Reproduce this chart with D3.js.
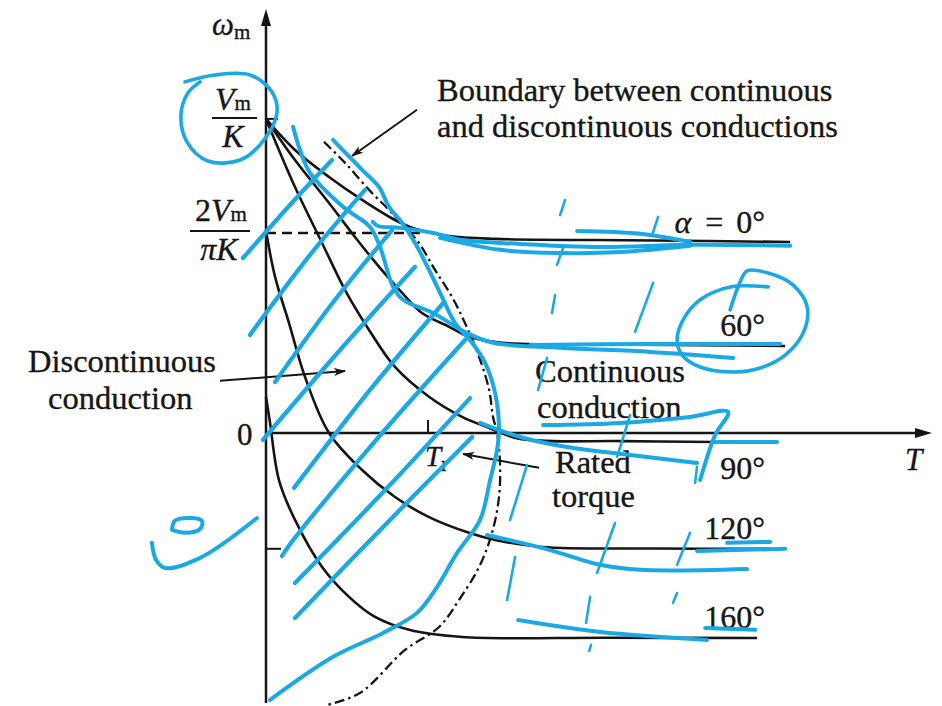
<!DOCTYPE html>
<html>
<head>
<meta charset="utf-8">
<script src="https://cdn.jsdelivr.net/npm/d3@7"></script>
<style>
  html, body { margin: 0; padding: 0; background: #ffffff; }
  svg { display: block; }
  text { font-family: "Liberation Serif", "Times New Roman", serif; fill: #161616; stroke: #161616; stroke-width: 0.35px; }
</style>
</head>
<body>
<svg id="chart" width="942" height="706"></svg>
<script>
// Speed–torque characteristics of a converter-fed dc motor.
// ω_m is in units of Vm/K, torque T in units of rated torque Tr.

const firingAngles = ["α = 0°", "60°", "90°", "120°", "160°"];

const curveA0 = [[0,1],[0.179,0.901],[0.389,0.815],[0.593,0.742],[0.796,0.678],[0.92,0.650],[1.13,0.627],[1.414,0.618],[2.4,0.613],[3.235,0.608]];
const curveA60 = [[0,1],[0.179,0.869],[0.389,0.732],[0.549,0.624],[0.698,0.529],[0.84,0.446],[0.963,0.382],[1.13,0.338],[1.253,0.306],[1.457,0.287],[2.3,0.281],[3.204,0.277]];
const curveA90 = [[0,1],[0.179,0.783],[0.346,0.605],[0.488,0.455],[0.636,0.328],[0.796,0.210],[1.006,0.115],[1.21,0.051],[1.377,0.016],[1.568,-0.019],[2.2,-0.026],[2.772,-0.029]];
const curveA120 = [[0,0.643],[0.056,0.497],[0.142,0.350],[0.241,0.178],[0.389,0],[0.593,-0.118],[0.796,-0.204],[1.006,-0.268],[1.253,-0.318],[1.414,-0.341],[1.704,-0.363],[2.4,-0.368],[3.111,-0.369]];
const curveA160 = [[0,0.115],[0.025,0.032],[0.08,-0.15],[0.179,-0.277],[0.346,-0.427],[0.512,-0.522],[0.673,-0.586],[0.883,-0.627],[1.21,-0.65],[2.1,-0.652],[3.031,-0.653]];
const speedCurves = [curveA0, curveA60, curveA90, curveA120, curveA160];

// boundary between continuous and discontinuous conduction
const boundary = [[0.358,0.927],[0.488,0.860],[0.636,0.774],[0.759,0.710],[0.858,0.656],[0.944,0.605],[1.043,0.519],[1.148,0.433],[1.228,0.350],[1.315,0.242],[1.377,0.137],[1.401,0.051],[1.426,0],[1.444,-0.096],[1.438,-0.204],[1.395,-0.318],[1.315,-0.427],[1.191,-0.532],[1.068,-0.618],[0.858,-0.691],[0.580,-0.828],[0.377,-0.866]];

const noLoadSpeed = 1;            // Vm/K
const averageSpeed = 2 / Math.PI; // 2Vm/(πK)
const ratedTorque = 1;            // Tr

// hand-drawn study marks (blue pen)
const ringVm = [[-0.500,1.118],[-0.315,1.140],[-0.099,1.140],[0.037,1.086],[0.068,1.022],[-0.012,0.933],[-0.160,0.869],[-0.358,0.866],[-0.488,0.927],[-0.525,1.013],[-0.481,1.083],[-0.407,1.118]];
const ring60 = [[2.864,0.392],[2.926,0.481],[2.969,0.516],[3.093,0.510],[3.253,0.471],[3.340,0.401],[3.315,0.318],[3.204,0.248],[3.049,0.207],[2.883,0.194],[2.679,0.210],[2.568,0.248],[2.537,0.296],[2.574,0.360],[2.679,0.424],[2.864,0.465],[3.099,0.465]];
const hatching = [
  [[-0.142,0.557],[0.148,0.726],[0.407,0.869]],
  [[-0.099,0.312],[0.272,0.567],[0.611,0.774]],
  [[0.056,0.162],[0.426,0.424],[0.778,0.646]],
  [[-0.019,-0.022],[0.457,0.264],[0.920,0.529]],
  [[0.173,-0.175],[0.642,0.137],[1.099,0.417]],
  [[0.099,-0.392],[0.136,-0.363],[0.642,-0.045],[1.228,0.296]],
  [[0.179,-0.478],[0.735,-0.182],[1.259,0.111]],
  [[0.179,-0.589],[0.735,-0.293],[1.272,-0.013]]
];
const traces = [
  [[0.414,0.933],[0.438,0.920],[0.593,0.838],[0.698,0.783],[0.759,0.720],[0.840,0.669],[0.920,0.605],[1.006,0.519],[1.086,0.433],[1.167,0.350],[1.272,0.287],[1.352,0.223],[1.414,0.127],[1.438,0.010],[1.426,-0.054],[1.383,-0.150],[1.321,-0.277],[1.179,-0.382],[1.056,-0.490],[0.932,-0.573],[0.722,-0.637],[0.414,-0.713],[0.025,-0.850]],
  [[0.167,0.975],[0.210,0.901],[0.272,0.828],[0.475,0.720],[0.642,0.656],[0.704,0.592],[0.784,0.465],[0.846,0.424],[1.031,0.382],[1.241,0.318],[1.401,0.287],[1.815,0.271],[2.370,0.258],[2.883,0.239]],
  [[1.630,0.280],[2.370,0.283],[3.173,0.283]],
  [[0.660,0.672],[0.691,0.659],[0.827,0.653],[1.031,0.637],[1.198,0.615],[1.568,0.602],[2.062,0.592],[2.617,0.599],[3.235,0.596]],
  [[1.074,0.621],[1.444,0.583],[1.815,0.573],[2.185,0.576],[2.617,0.596]],
  [[1.920,0.643],[2.309,0.634],[2.617,0.608]],
  [[1.321,0.032],[1.568,-0.013],[1.858,-0.045],[2.247,-0.070],[2.660,-0.096]],
  [[1.710,0.025],[2.185,0.032],[2.617,0.051],[2.852,0.067],[2.772,-0.006],[2.679,-0.150]],
  [[2.759,-0.029],[3.154,-0.029]],
  [[1.364,-0.325],[1.753,-0.373],[2.062,-0.420],[2.309,-0.436],[2.969,-0.433]],
  [[2.660,-0.376],[3.204,-0.369]],
  [[2.846,-0.350],[3.111,-0.347]],
  [[1.556,-0.596],[2.062,-0.634],[2.722,-0.659]],
  [[2.710,-0.621],[3.019,-0.627]],
  [[-0.704,-0.350],[-0.679,-0.404],[-0.623,-0.430],[-0.407,-0.398],[-0.056,-0.271]],
  [[-0.580,-0.309],[-0.562,-0.280],[-0.469,-0.271],[-0.395,-0.280],[-0.407,-0.306],[-0.500,-0.318],[-0.580,-0.309]]
];
const ticksMarks = [
  [[1.846,0.742],[1.815,0.694]], [[1.833,0.589],[1.796,0.535]], [[2.420,0.688],[2.383,0.631]],
  [[1.784,0.439],[1.765,0.382]], [[2.389,0.478],[2.278,0.322]], [[1.735,0.239],[1.679,0.137]],
  [[2.247,0.057],[2.167,-0.076]], [[1.611,-0.102],[1.506,-0.277]], [[2.154,-0.287],[2.043,-0.446]],
  [[2.660,-0.108],[2.648,-0.159]], [[2.617,-0.318],[2.537,-0.420]], [[1.537,-0.395],[1.488,-0.532]],
  [[2.0,-0.522],[1.975,-0.605]], [[2.006,-0.675],[1.994,-0.694]], [[2.537,-0.510],[2.512,-0.541]]
];

const svg = d3.select("#chart");
const x = d3.scaleLinear().domain([0, 4.11]).range([266, 932]);
const y = d3.scaleLinear().domain([-0.86, 1.35]).range([703, 9]);

const ink = "#151515";
const pen = "#1ba8e6";

const smooth = d3.line().x(d => x(d[0])).y(d => y(d[1])).curve(d3.curveCatmullRom.alpha(0.5));
const straight = d3.line().x(d => x(d[0])).y(d => y(d[1]));

// arrowhead marker
svg.append("defs").append("marker")
  .attr("id", "head").attr("viewBox", "0 0 12 10").attr("refX", 11).attr("refY", 5)
  .attr("markerWidth", 13).attr("markerHeight", 10).attr("markerUnits", "userSpaceOnUse")
  .attr("orient", "auto")
  .append("path").attr("d", "M0,1 L12,5 L0,9 L3,5 Z").attr("fill", ink);

// axes
const g = svg.append("g");
g.append("line").attr("x1", x(0)).attr("x2", x(0)).attr("y1", y(-0.86)).attr("y2", y(1.35) + 14)
  .attr("stroke", ink).attr("stroke-width", 2.5);
g.append("path").attr("d", `M${x(0)},${y(1.35)} L${x(0) - 5},${y(1.35) + 17} L${x(0) + 5},${y(1.35) + 17} Z`).attr("fill", ink);
g.append("line").attr("x1", x(0)).attr("x2", x(4.11) - 14).attr("y1", y(0)).attr("y2", y(0))
  .attr("stroke", ink).attr("stroke-width", 2.5);
g.append("path").attr("d", `M${x(4.11)},${y(0)} L${x(4.11) - 17},${y(0) - 5} L${x(4.11) - 17},${y(0) + 5} Z`).attr("fill", ink);

// reference ticks
g.append("line").attr("x1", x(0)).attr("x2", x(0) + 12).attr("y1", y(noLoadSpeed)).attr("y2", y(noLoadSpeed))
  .attr("stroke", ink).attr("stroke-width", 2);
g.append("line").attr("x1", x(0)).attr("x2", x(0) + 15).attr("y1", y(curveA120[curveA120.length - 1][1])).attr("y2", y(curveA120[curveA120.length - 1][1]))
  .attr("stroke", ink).attr("stroke-width", 2);
g.append("line").attr("x1", x(ratedTorque)).attr("x2", x(ratedTorque)).attr("y1", y(0)).attr("y2", y(0) - 13)
  .attr("stroke", ink).attr("stroke-width", 2);

// 2Vm/πK level
g.append("line").attr("x1", x(0)).attr("x2", x(0.95)).attr("y1", y(averageSpeed)).attr("y2", y(averageSpeed))
  .attr("stroke", ink).attr("stroke-width", 2.3).attr("stroke-dasharray", "10,6");

// speed-torque curves
g.selectAll(".curve").data(speedCurves).join("path")
  .attr("class", "curve").attr("d", smooth)
  .attr("fill", "none").attr("stroke", ink).attr("stroke-width", 2.6);

// conduction boundary
g.append("path").attr("d", smooth(boundary))
  .attr("fill", "none").attr("stroke", ink).attr("stroke-width", 2.3)
  .attr("stroke-dasharray", "10,4,2.5,4");

// pointer arrows
const arrows = [
  [[0.932, 1.029], [0.531, 0.882]],
  [[-0.284, 0.166], [0.488, 0.197]],
  [[1.685, -0.111], [1.216, -0.067]]
];
g.selectAll(".arrow").data(arrows).join("path")
  .attr("class", "arrow").attr("d", straight)
  .attr("stroke", ink).attr("stroke-width", 2).attr("fill", "none")
  .attr("marker-end", "url(#head)");

// text
const fs = 32.5;
function label(tx, ty, str, opts = {}) {
  const t = svg.append("text").attr("x", tx).attr("y", ty)
    .attr("font-size", opts.size || fs)
    .attr("text-anchor", opts.anchor || "start")
    .text(str);
  if (opts.italic) t.attr("font-style", "italic");
  return t;
}

// axis names
const wl = label(x(0) - 54, y(1.35) + 26, "ω", { italic: true, size: 31 });
wl.append("tspan").attr("font-size", 21).attr("font-style", "normal").attr("dy", 4).text("m");
label(x(4.11) - 27, y(0) + 37, "T", { italic: true, size: 31 });
label(x(0) - 29, y(0) + 12, "0", { size: 31 });

// Vm/K
const bar1 = y(noLoadSpeed) - 1;
g.append("line").attr("x1", x(0) - 54).attr("x2", x(0) - 9).attr("y1", bar1).attr("y2", bar1).attr("stroke", ink).attr("stroke-width", 2);
const n1 = label(x(0) - 33, bar1 - 8, "V", { italic: true, size: 32, anchor: "middle" });
n1.append("tspan").attr("font-size", 21).attr("font-style", "normal").text("m");
label(x(0) - 33, bar1 + 29, "K", { italic: true, size: 32, anchor: "middle" });

// 2Vm/πK
const bar2 = y(averageSpeed) - 2;
g.append("line").attr("x1", x(0) - 76).attr("x2", x(0) - 16).attr("y1", bar2).attr("y2", bar2).attr("stroke", ink).attr("stroke-width", 2);
const n2 = label(x(0) - 45, bar2 - 10, "2", { size: 32, anchor: "middle" });
n2.append("tspan").attr("font-style", "italic").text("V");
n2.append("tspan").attr("font-size", 21).text("m");
const d2 = label(x(0) - 47, bar2 + 29, "π", { italic: true, size: 32, anchor: "middle" });
d2.append("tspan").text("K");

// rated torque
const trl = label(x(ratedTorque) - 3, y(0) + 33, "T", { italic: true, size: 29 });
trl.append("tspan").attr("font-size", 20).attr("font-style", "normal").attr("dy", 5).text("r");

// region notes
label(437, 101, "Boundary between continuous");
label(437, 137, "and discontinuous conductions");
label(28, 372, "Discontinuous");
label(48, 409, "conduction");
label(535, 382, "Continuous");
label(537, 418, "conduction");
label(555, 473, "Rated");
label(552, 507, "torque");

// firing angle labels at the end of each curve
const labelShift = [-9, -10, 37, -10, -10];
firingAngles.forEach((s, i) => {
  const c = speedCurves[i];
  const lv = c[c.length - 1][1];
  const t = svg.append("text").attr("x", x(3.08)).attr("y", y(lv) + labelShift[i])
    .attr("font-size", 32).attr("text-anchor", "end");
  if (i === 0) {
    t.append("tspan").attr("font-style", "italic").text("α");
    t.append("tspan").attr("dx", 14).text("=");
    t.append("tspan").attr("dx", 13).text("0°");
  } else {
    t.text(s);
  }
});

// blue pen marks
const marks = svg.append("g").attr("fill", "none").attr("stroke", pen)
  .attr("stroke-linecap", "round").attr("stroke-linejoin", "round");
marks.append("path").attr("d", smooth(ringVm)).attr("stroke-width", 3.6);
marks.append("path").attr("d", smooth(ring60)).attr("stroke-width", 3.6);
marks.selectAll(".hatch").data(hatching).join("path").attr("class", "hatch")
  .attr("d", smooth).attr("stroke-width", 4.3);
marks.selectAll(".trace").data(traces).join("path").attr("class", "trace")
  .attr("d", smooth).attr("stroke-width", 4);
marks.selectAll(".tick").data(ticksMarks).join("path").attr("class", "tick")
  .attr("d", straight).attr("stroke-width", 2.6);
</script>
</body>
</html>
